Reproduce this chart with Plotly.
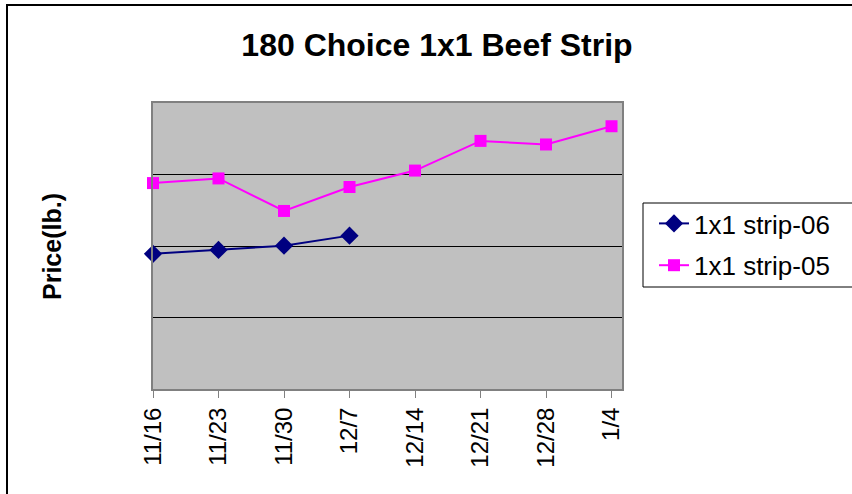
import plotly.graph_objects as go

dates = ["11/16", "11/23", "11/30", "12/7", "12/14", "12/21", "12/28", "1/4"]
strip_06 = [3.78, 3.89, 4.01, 4.29]
strip_05 = [5.76, 5.89, 4.98, 5.65, 6.11, 6.94, 6.84, 7.35]
series_names = ["1x1 strip-06", "1x1 strip-05"]

FONT = "Liberation Sans, Arial, sans-serif"

fig = go.Figure()
fig.add_trace(go.Scatter(
    x=dates[:len(strip_06)], y=strip_06, name=series_names[0], legendgroup="a",
    mode="lines+markers", cliponaxis=False,
    line=dict(color="#000080", width=2),
    marker=dict(symbol="diamond", size=14, color="#000080"),
))
fig.add_trace(go.Scatter(
    x=dates, y=strip_05, name=series_names[1], legendgroup="b",
    mode="lines+markers", cliponaxis=False,
    line=dict(color="#FF00FF", width=2),
    marker=dict(symbol="square", size=12, color="#FF00FF"),
))

W, H = 852, 494
PL, PR, PT, PB = 153, 622, 103, 389  # plot area in pixels
pw, ph = PR - PL, PB - PT
L, T = PL, PT
R, B = W - L - pw, H - T - ph


def px(x):
    return (x - PL) / pw


def py(y):
    return (PB - y) / ph


fig.update_layout(
    width=W, height=H,
    margin=dict(l=L, r=R, t=T, b=B),
    paper_bgcolor="white", plot_bgcolor="#C0C0C0",
    font=dict(family=FONT, color="black"),
    title=dict(text="<b>180 Choice 1x1 Beef Strip</b>", x=437 / W, xanchor="center",
               y=1 - 45 / H, yanchor="middle", font=dict(size=32, family=FONT)),
    showlegend=True, hovermode=False,
    legend=dict(x=px(654), y=py(200), xanchor="left", yanchor="top",
                bgcolor="rgba(0,0,0,0)", borderwidth=0,
                tracegroupgap=5,
                font=dict(size=26, family=FONT)),
    shapes=[
        dict(type="rect", xref="paper", yref="paper",
             x0=px(7), x1=px(W + 20), y0=py(H + 20), y1=py(5),
             line=dict(color="black", width=2), fillcolor="rgba(0,0,0,0)", layer="below"),
        dict(type="rect", xref="paper", yref="paper",
             x0=px(643), x1=px(W + 20), y0=py(287), y1=py(203),
             line=dict(color="black", width=1), fillcolor="white", layer="below"),
    ],
    annotations=[dict(text="<b>Price(lb.)</b>", xref="paper", yref="paper",
                      x=px(52), y=py(247), xanchor="center", yanchor="middle",
                      textangle=-90, showarrow=False, font=dict(size=25, family=FONT))],
)
fig.update_xaxes(
    type="category", range=[0, 7.16], tickangle=-90, automargin=False,
    tickfont=dict(size=24, family=FONT), ticks="outside", ticklen=7, tickcolor="#808080",
    showline=True, linecolor="#808080", linewidth=2, mirror=True, showgrid=False,
)
fig.update_yaxes(
    range=[0, 8], dtick=2, showticklabels=False, ticks="", automargin=False,
    showgrid=True, gridcolor="black", gridwidth=1, zeroline=False,
    showline=True, linecolor="#808080", linewidth=2, mirror=True,
)

fig.write_html("out.html", config={"displayModeBar": False},
               post_script="document.body.style.margin='0px';")
